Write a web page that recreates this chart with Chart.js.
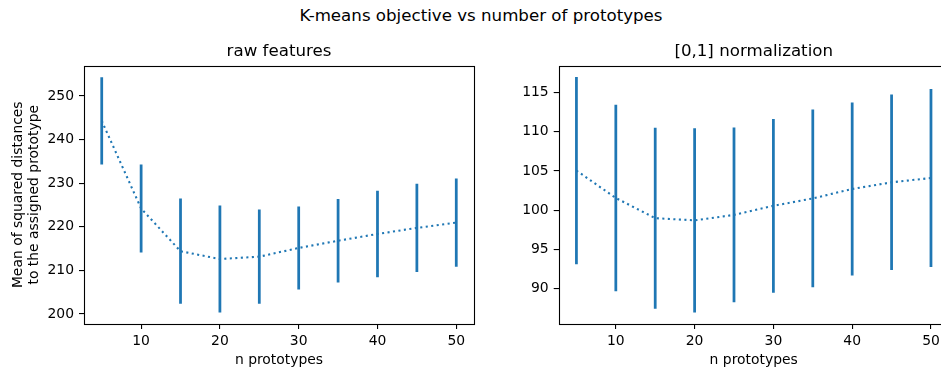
<!DOCTYPE html>
<html>
<head>
<meta charset="utf-8">
<script src="https://cdn.jsdelivr.net/npm/chart.js@4/dist/chart.umd.min.js"></script>
<style>
  html, body { margin: 0; padding: 0; background: #fff; }
  body { width: 941px; height: 369px; overflow: hidden; position: relative; }
  #sup { position: absolute; left: 481px; top: 5.5px; transform: translateX(-50%);
         font-family: 'DejaVu Sans'; font-size: 16.67px; line-height: 20px; white-space: nowrap; color: #000; }
  #c1 { position: absolute; left: 0; top: 0; }
  #c2 { position: absolute; left: 480px; top: 0; }
</style>
</head>
<body>
<div id="sup">K-means objective vs number of prototypes</div>
<canvas id="c1" width="480" height="369"></canvas>
<canvas id="c2" width="472" height="369"></canvas>
<script>
// ---- data ----
const nPrototypes = [5, 10, 15, 20, 25, 30, 35, 40, 45, 50];
const rawMean = [244.3, 224.2, 214.4, 212.6, 213.15, 215.15, 216.8, 218.35, 219.75, 220.95];
const rawErr  = [9.95, 10.0, 12.0, 12.2, 10.75, 9.45, 9.5, 9.85, 10.05, 10.05];
const normMean = [105.05, 101.55, 98.98, 98.7, 99.4, 100.55, 101.5, 102.7, 103.55, 104.1];
const normErr  = [11.9, 11.85, 11.5, 11.7, 11.1, 11.05, 11.3, 11.0, 11.15, 11.3];
const xTicks = [10, 20, 30, 40, 50];
const rawTicks = [200, 210, 220, 230, 240, 250];
const normTicks = [90, 95, 100, 105, 110, 115];
const titleRaw = 'raw features';
const titleNorm = '[0,1] normalization';
const xLabel = 'n prototypes';
const yLabel = ['Mean of squared distances', 'to the assigned prototype'];

Chart.defaults.font.family = 'DejaVu Sans';
Chart.defaults.color = '#000';

const BLUE = '#1f77b4';

const framePlugin = {
  id: 'frame',
  afterDraw(chart) {
    const a = chart.chartArea, ctx = chart.ctx;
    ctx.save();
    ctx.strokeStyle = '#000';
    ctx.lineWidth = 1.1;
    ctx.strokeRect(Math.round(a.left) + 0.5, Math.round(a.top) + 0.5,
                   Math.round(a.right) - Math.round(a.left), Math.round(a.bottom) - Math.round(a.top));
    ctx.restore();
  }
};

function makeChart(id, mean, err, yTicks, yMin, yMax, title, yAxisWidth, padRight, withYLabel) {
  const bars = nPrototypes.map((x, i) => ({ x: x, y: [mean[i] - err[i], mean[i] + err[i]] }));
  const line = nPrototypes.map((x, i) => ({ x: x, y: mean[i] }));
  return new Chart(document.getElementById(id), {
    type: 'line',
    data: {
      datasets: [
        { type: 'bar', data: bars, backgroundColor: BLUE, borderWidth: 0, barThickness: 2.1, order: 1 },
        { type: 'line', data: line, borderColor: BLUE, borderWidth: 2.08, borderDash: [2.08, 3.44],
          borderCapStyle: 'butt', pointRadius: 0, tension: 0, fill: false, order: 2 }
      ]
    },
    options: {
      responsive: false,
      animation: false,
      events: [],
      layout: { padding: { top: 42, right: padRight, bottom: 0, left: 0 } },
      plugins: {
        legend: { display: false },
        tooltip: { enabled: false },
        title: { display: true, text: title, fullSize: false, font: { size: 16.67, weight: 'normal' },
                 padding: { top: 0, bottom: 3.5 }, color: '#000' }
      },
      scales: {
        x: {
          type: 'linear', min: 2.75, max: 52.25, offset: false,
          afterBuildTicks: s => { s.ticks = xTicks.map(v => ({ value: v })); },
          afterFit: s => { s.height = 45; },
          grid: { display: true, offset: false, drawOnChartArea: false, drawTicks: true, tickLength: 5, color: '#000', lineWidth: 1.1 },
          border: { display: false },
          ticks: { font: { size: 13.9 }, padding: 4.5, color: '#000', maxRotation: 0 },
          title: { display: true, text: xLabel, font: { size: 13.9 }, padding: { top: 0, bottom: 0.5 }, color: '#000' }
        },
        y: {
          type: 'linear', min: yMin, max: yMax,
          afterBuildTicks: s => { s.ticks = yTicks.map(v => ({ value: v })); },
          afterFit: s => { s.width = yAxisWidth; },
          grid: { display: true, offset: false, drawOnChartArea: false, drawTicks: true, tickLength: 5, color: '#000', lineWidth: 1.1 },
          border: { display: false },
          ticks: { font: { size: 13.9 }, padding: 5, color: '#000' },
          title: { display: withYLabel, text: yLabel, font: { size: 13.9, lineHeight: 1.151 },
                   padding: { top: 10.3, bottom: 0 }, color: '#000' }
        }
      }
    },
    plugins: [framePlugin]
  });
}

makeChart('c1', rawMean, rawErr, rawTicks, 197.7, 257.0, titleRaw, 84, 6, true);
makeChart('c2', normMean, normErr, normTicks, 85.48, 118.45, titleNorm, 78.7, 3.3, false);
</script>
</body>
</html>
